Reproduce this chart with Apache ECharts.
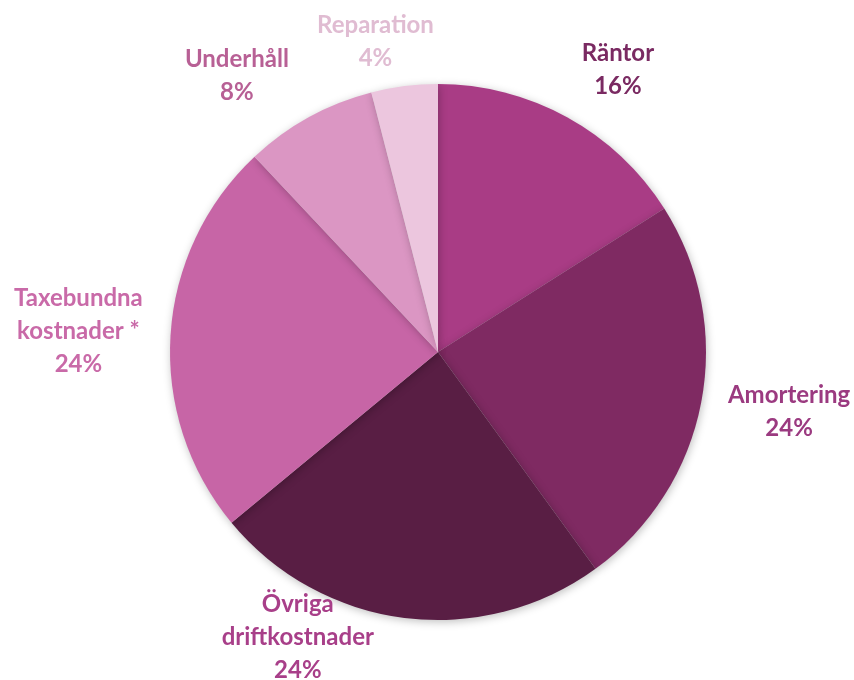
<!DOCTYPE html>
<html>
<head>
<meta charset="utf-8">
<script src="https://cdn.jsdelivr.net/npm/echarts@6/dist/echarts.min.js"></script>
<style>html,body{margin:0;padding:0;background:#fff}#c{width:854px;height:680px}</style>
</head>
<body>
<div id="c"></div>
<script>
const categories = ['Räntor', 'Amortering', 'Övriga\ndriftkostnader', 'Taxebundna\nkostnader *', 'Underhåll', 'Reparation'];
const values = [16, 24, 24, 24, 8, 4];
const sliceColors = ['#a93c85', '#7f2a62', '#591e44', '#c765a6', '#db96c3', '#ecc6de'];
const labelColors = ['#7a2a62', '#9b3a80', '#a83f89', '#c96aa8', '#b86095', '#e0bcd2'];
// label nudges (style only)
const labelShift = [[0, -30], [2, 6], [-23, 8], [-8, 0], [40, -59], [37, -25]];

const chart = echarts.init(document.getElementById('c'));
chart.setOption({
  animation: false,
  series: [{
    type: 'pie',
    center: [438, 352],
    radius: 268,
    startAngle: 90,
    clockwise: true,
    data: categories.map((n, i) => ({
      name: n, value: values[i],
      itemStyle: { color: sliceColors[i] },
      label: { color: labelColors[i] }
    })),
    itemStyle: { shadowBlur: 8, shadowColor: 'rgba(0,0,0,0.25)', shadowOffsetX: 1, shadowOffsetY: 2 },
    label: {
      show: true,
      position: 'outside',
      overflow: 'none',
      formatter: p => p.name + '\n' + p.value + '%',
      fontFamily: 'Lato',
      fontWeight: 'bold',
      fontSize: 24,
      lineHeight: 33
    },
    labelLine: { show: false, length: 20, length2: 0 },
    labelLayout: p => ({
      x: p.labelRect.x + p.labelRect.width / 2 + labelShift[p.dataIndex][0],
      y: p.labelRect.y + p.labelRect.height / 2 + labelShift[p.dataIndex][1],
      align: 'center',
      verticalAlign: 'middle'
    })
  }]
});
</script>
</body>
</html>
